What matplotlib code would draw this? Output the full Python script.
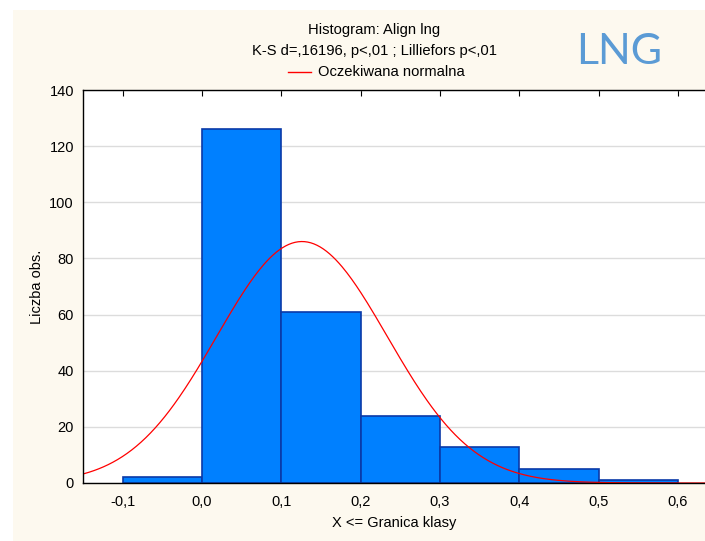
import numpy as np
import matplotlib
matplotlib.use("Agg")
import matplotlib.pyplot as plt
from matplotlib.patches import Rectangle
from matplotlib.lines import Line2D

# histogram of Align lng, class upper bounds
bin_edges = [-0.1, 0.0, 0.1, 0.2, 0.3, 0.4, 0.5, 0.6]
counts = [2, 126, 61, 24, 13, 5, 1]

# expected normal curve parameters
n_obs = sum(counts)
mean_x = 0.126
sd_x = 0.1076

x_ticks = [-0.1, 0.0, 0.1, 0.2, 0.3, 0.4, 0.5, 0.6]
x_ticklabels = ["-0,1", "0,0", "0,1", "0,2", "0,3", "0,4", "0,5", "0,6"]
y_ticks = [0, 20, 40, 60, 80, 100, 120, 140]

plt.rcParams["font.family"] = ["Liberation Sans", "DejaVu Sans"]

fig = plt.figure(figsize=(7.05, 5.41), dpi=100)
fig.patch.set_facecolor("white")
fig.patches.append(Rectangle((13 / 705, 0), 1 - 13 / 705, 1 - 10 / 541,
                             transform=fig.transFigure, facecolor="#fdf9ef",
                             edgecolor="none", zorder=-5))

ax = fig.add_axes([83 / 705, 1 - 483 / 541, 1 - 83 / 705, (483 - 90) / 541])
ax.set_facecolor("white")

widths = np.diff(bin_edges)
ax.bar(bin_edges[:-1], counts, width=widths, align="edge",
       color="#0080ff", edgecolor="#0a3aa8", linewidth=1.2, zorder=2)

xs = np.linspace(-0.15, 0.64, 400)
ys = n_obs * 0.1 / (sd_x * np.sqrt(2 * np.pi)) * np.exp(-0.5 * ((xs - mean_x) / sd_x) ** 2)
ax.plot(xs, ys, color="red", linewidth=0.9, zorder=3)

ax.set_xlim(-0.15, 0.634)
ax.set_ylim(0, 140)
ax.set_xticks(x_ticks)
ax.set_xticklabels(x_ticklabels)
ax.set_yticks(y_ticks)
ax.yaxis.grid(True, color="#dcdcdc", linewidth=1.0, zorder=0)
ax.set_axisbelow(True)

ax.spines["right"].set_visible(False)
for s in ["left", "top", "bottom"]:
    ax.spines[s].set_linewidth(1.0)
    ax.spines[s].set_zorder(4)

ax.tick_params(axis="x", which="both", bottom=False, top=True, direction="in",
               length=4, labelsize=10.5, pad=9)
ax.tick_params(axis="y", which="both", left=False, right=False, labelsize=10.5, pad=3)

ax.set_xlabel("X <= Granica klasy", fontsize=10.5, labelpad=5)
ax.set_ylabel("Liczba obs.", fontsize=10.5, labelpad=4)

fig.text(374 / 705, 1 - 30 / 541, "Histogram: Align lng", ha="center", va="center", fontsize=10.6)
fig.text(374 / 705, 1 - 51 / 541, "K-S d=,16196, p<,01 ; Lilliefors p<,01",
         ha="center", va="center", fontsize=10.6)
fig.add_artist(Line2D([288 / 705, 311 / 705], [1 - 72 / 541, 1 - 72 / 541],
                      transform=fig.transFigure, color="red", linewidth=1.0))
fig.text(318 / 705, 1 - 72 / 541, "Oczekiwana normalna", ha="left", va="center", fontsize=10.6)

fig.text(619 / 705, 1 - 52 / 541, "LNG", ha="center", va="center", fontsize=31,
         color="#5b9bd5", family=["Lato", "DejaVu Sans"])

fig.savefig("out.png", dpi=100)
